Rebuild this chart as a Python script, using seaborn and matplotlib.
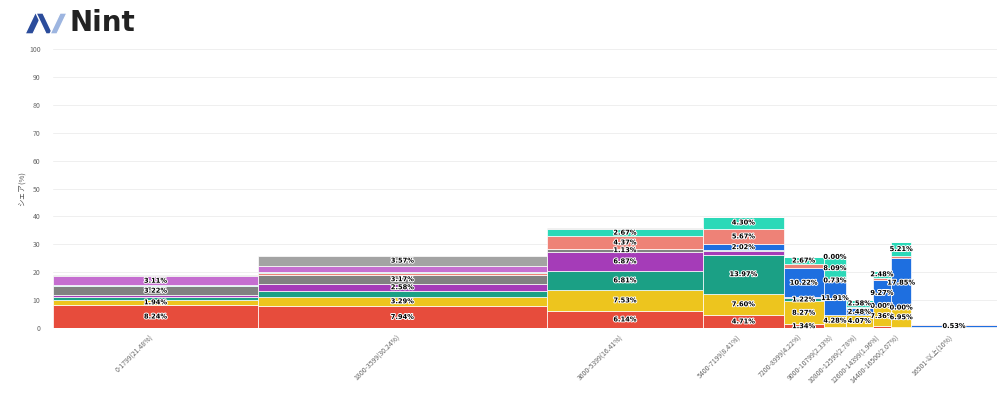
from matplotlib import pyplot as plt
from matplotlib.patches import Polygon
import matplotlib.patheffects as pe
import seaborn as sns
import pandas as pd
import numpy as np

# price bands and their width on the x axis (share of the market, %)
bands = ["0-1799", "1800-3599", "3600-5399", "5400-7199", "7200-8999",
         "9000-10799", "10800-12599", "12600-14399", "14400-16500", "16501-以上"]
band_share = [21.48, 30.24, 16.41, 8.41, 4.22, 2.33, 2.78, 1.96, 2.07, 9.0]
band_share_txt = ["21.48%", "30.24%", "16.41%", "8.41%", "4.22%",
                  "2.33%", "2.78%", "1.96%", "2.07%", "10%"]

# stacked shares inside each band (bottom -> top)
red = [8.24, 7.94, 6.14, 4.71, 1.34, 0.5, 0.5, 0.6, 0.4, 0.45]
yellow = [1.94, 3.29, 7.53, 7.60, 8.27, 4.28, 4.07, 7.36, 6.95, 0]
teal = [1.0, 2.1, 6.81, 13.97, 1.22, 0, 0, 0.00, 0.00, 0]
purple = [0.6, 2.58, 6.87, 1.3, 0.3, 0, 0, 0, 0, 0]
gray = [3.22, 3.17, 1.13, 0.4, 0, 0, 0, 0, 0, 0]
blue = [0, 0, 0, 2.02, 10.22, 11.91, 2.48, 9.27, 17.85, 0.53]
salmon = [0.2, 0.5, 4.37, 5.67, 1.5, 0.73, 0.5, 0.8, 0.5, 0.3]
cyan = [0.2, 0.5, 2.67, 4.30, 2.67, 8.09, 2.58, 2.48, 5.21, 0]
orchid = [3.11, 2.3, 0, 0, 0, 0, 0, 0, 0, 0]
lightgray = [0.5, 3.57, 0.5, 0, 0, 0.00, 0, 0, 0, 0]

series = {
    "red": red, "yellow": yellow, "teal": teal, "purple": purple,
    "gray": gray, "blue": blue, "salmon": salmon, "cyan": cyan,
    "orchid": orchid, "lightgray": lightgray,
}
colors = {
    "red": "#E74C3C", "yellow": "#EDC51E", "teal": "#1BA085",
    "purple": "#A53CB8", "gray": "#818181", "blue": "#1E6FE0",
    "salmon": "#EE8277", "cyan": "#2BD9B8", "orchid": "#C56ED0",
    "lightgray": "#A3A3A3",
}

# which segments carry a value label
labeled = {
    0: ["red", "yellow", "gray", "orchid"],
    1: ["red", "yellow", "purple", "gray", "lightgray"],
    2: ["red", "yellow", "teal", "purple", "gray", "salmon", "cyan"],
    3: ["red", "yellow", "teal", "blue", "salmon", "cyan"],
    4: ["red", "yellow", "teal", "blue", "cyan"],
    5: ["yellow", "blue", "salmon", "cyan", "lightgray"],
    6: ["yellow", "blue", "cyan"],
    7: ["yellow", "teal", "blue", "cyan"],
    8: ["yellow", "teal", "blue", "cyan"],
    9: ["blue"],
}


def px(x, y):
    # figure pixel (from top-left) -> figure fraction
    return (x / 1008, 1 - y / 394)


def main():
    sns.set_theme(style="whitegrid")
    plt.rcParams["font.family"] = ["Noto Sans CJK JP", "DejaVu Sans"]

    fig = plt.figure(figsize=(10.08, 3.94), dpi=100)
    ax = fig.add_axes([0.0526, 0.1675, 0.9364, 0.708])

    widths = np.array(band_share)
    lefts = np.concatenate([[0], np.cumsum(widths)[:-1]])
    centers = lefts + widths / 2

    df = pd.DataFrame(series)
    bottoms = np.zeros(len(bands))
    for name in df.columns:
        vals = df[name].to_numpy()
        ax.bar(lefts, vals, width=widths, bottom=bottoms, align="edge",
               color=colors[name], edgecolor="white", linewidth=0.5)
        for i, v in enumerate(vals):
            if name in labeled[i]:
                ax.text(centers[i], bottoms[i] + v / 2, f"{v:.2f}%",
                        ha="center", va="center", fontsize=4.8,
                        fontweight="bold", color="black",
                        family="DejaVu Sans",
                        path_effects=[pe.withStroke(linewidth=1.4,
                                                    foreground="white")])
        bottoms += vals

    ax.set_xlim(0, widths.sum())
    ax.set_ylim(0, 100)
    ax.set_yticks(np.arange(0, 101, 10))
    ax.tick_params(axis="y", labelsize=5, colors="#666666", pad=9, length=0)
    ax.set_xticks(centers)
    ax.set_xticklabels([f"{b}({s})" for b, s in zip(bands, band_share_txt)],
                       rotation=45, ha="right", fontsize=5, color="#666666")
    ax.tick_params(axis="x", length=0, pad=4)
    ax.grid(axis="x", visible=False)
    ax.grid(axis="y", color="#ececec", linewidth=0.6)
    for s in ax.spines.values():
        s.set_visible(False)
    ax.set_ylabel("シェア(%)", fontsize=5.5, color="#555555")
    ax.yaxis.set_label_coords(-0.028, 0.5)

    # logo
    dark = "#2B4C9B"
    light = "#9DB5E0"
    fig.patches.append(Polygon(
        [px(25, 34), px(33, 34), px(43, 13), px(35, 13)],
        closed=True, transform=fig.transFigure, facecolor=dark))
    fig.patches.append(Polygon(
        [px(36, 13), px(43, 13), px(53, 34), px(46, 34)],
        closed=True, transform=fig.transFigure, facecolor=dark))
    fig.patches.append(Polygon(
        [px(50, 34), px(57, 34), px(67, 13), px(60, 13)],
        closed=True, transform=fig.transFigure, facecolor=light))
    fig.text(*px(69, 23), "Nint", fontsize=20, fontweight="bold",
             color="#222222", va="center", ha="left", family="DejaVu Sans")

    fig.savefig("out.png", dpi=100)


if __name__ == "__main__":
    main()
